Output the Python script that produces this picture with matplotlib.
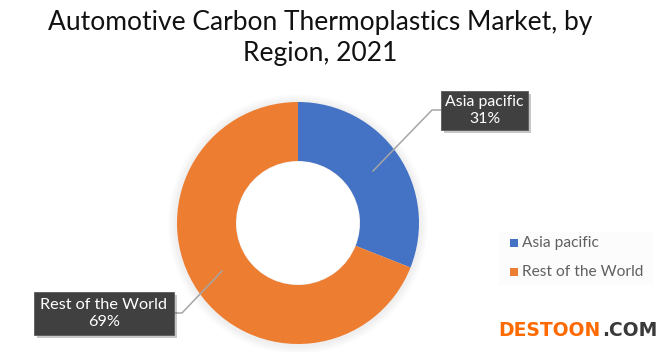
import matplotlib
matplotlib.use("Agg")
import matplotlib.pyplot as plt
from matplotlib.patches import Rectangle, Circle

plt.rcParams['font.family'] = ['Lato', 'DejaVu Sans']

title = "Automotive Carbon Thermoplastics Market, by\nRegion, 2021"
categories = ["Asia pacific", "Rest of the World"]
values = [31, 69]
colors = ["#4472C4", "#ED7D31"]

H = 352
fig = plt.figure(figsize=(6.7, 3.52), dpi=100)
ax = fig.add_axes([0, 0, 1, 1])

cx, cy, R = 298, H - 223, 121
r_in = 62

# soft shadow round the ring
for i in range(8):
    ax.add_patch(Circle((cx, cy - 1), R + 9 - i, fc="#000000", alpha=0.006, ec="none", zorder=0))

wedges, _ = ax.pie(values, colors=colors, startangle=90, counterclock=False,
                   center=(cx, cy), radius=R,
                   wedgeprops=dict(width=R - r_in, edgecolor="none"))
ax.add_patch(Circle((cx, cy), r_in - 0.5, fc="white", ec="none", zorder=0.5))
ax.set_xlim(0, 670)
ax.set_ylim(0, H)
ax.set_aspect("equal")
ax.axis("off")

ax.text(320, H - 38, title, ha="center", va="center", fontsize=19, color="#111111",
        linespacing=1.28)


def callout(x0, y0, x1, y1, text, line, size):
    ax.plot([p[0] for p in line], [H - p[1] for p in line], color="#A6A6A6", lw=1.1, zorder=4)
    ax.add_patch(Rectangle((x0 + 3, H - y1 - 3), x1 - x0, y1 - y0, fc="#000000", alpha=0.22,
                           ec="none", zorder=5))
    ax.add_patch(Rectangle((x0, H - y1), x1 - x0, y1 - y0, fc="#404040", ec="#5a5a5a",
                           lw=0.6, zorder=6))
    ax.text((x0 + x1) / 2, H - (y0 + y1) / 2, text, ha="center", va="center", color="white",
            fontsize=size, linespacing=1.2, zorder=7)


callout(441, 91, 528, 130, f"{categories[0]}\n{values[0]}%",
        [(373, 171), (432, 110), (441, 110)], 11.4)
callout(34, 292, 174, 335, f"{categories[1]}\n{values[1]}%",
        [(222, 271), (182, 313), (174, 313)], 11.7)

# legend
ax.add_patch(Rectangle((498, H - 285), 155, 53, fc="#FCFCFC", ec="none", zorder=1))
for y, c, name in zip([243, 271.5], colors, categories):
    ax.add_patch(Rectangle((509.5, H - y - 4), 8, 8, fc=c, ec="none", zorder=2))
    ax.text(522, H - y, name, ha="left", va="center", fontsize=11.2, color="#606060", zorder=2)

# watermark
ax.text(498, H - 330, "DESTOON", ha="left", va="center", fontsize=13.5,
        family="DejaVu Sans", fontweight="bold", color="#FF6A00", zorder=8)
ax.text(602, H - 330, ".COM", ha="left", va="center", fontsize=13.5,
        family="DejaVu Sans", fontweight="bold", color="#3A3A3A", zorder=8)

fig.savefig("out.png", dpi=100, facecolor="white")
